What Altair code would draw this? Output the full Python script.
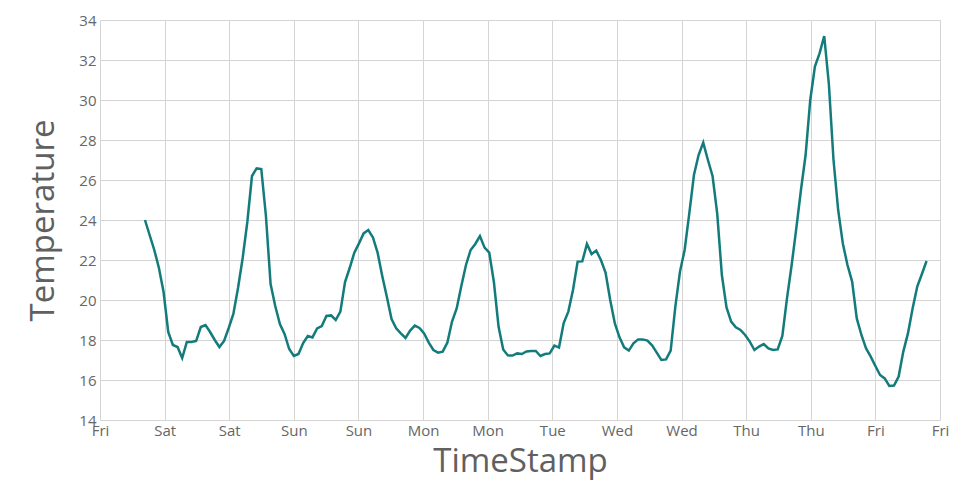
import altair as alt
import pandas as pd

# Hourly readings, starting Friday 2016-10-28 20:00 UTC
start_time = "2016-10-28T20:00:00Z"

day1 = [24.0, 23.25, 22.5, 21.6, 20.4, 18.4, 17.75, 17.65, 17.1, 17.9, 17.9, 17.95,
        18.65, 18.75, 18.4, 18.0, 17.65, 17.95, 18.6, 19.3, 20.6, 22.1, 23.9, 26.2]
day2 = [26.58, 26.55, 24.2, 20.8, 19.7, 18.8, 18.3, 17.55, 17.2, 17.3, 17.85, 18.2,
        18.13, 18.58, 18.7, 19.2, 19.23, 19.0, 19.42, 20.9, 21.6, 22.37, 22.83, 23.33]
day3 = [23.5, 23.13, 22.37, 21.2, 20.15, 19.05, 18.58, 18.33, 18.1, 18.47, 18.72, 18.6,
        18.33, 17.87, 17.5, 17.37, 17.42, 17.87, 18.92, 19.58, 20.7, 21.75, 22.5, 22.8]
day4 = [23.2, 22.62, 22.37, 20.9, 18.67, 17.53, 17.23, 17.22, 17.33, 17.3, 17.43, 17.45,
        17.45, 17.2, 17.3, 17.33, 17.72, 17.62, 18.85, 19.42, 20.5, 21.92, 21.93, 22.8]
day5 = [22.3, 22.47, 22.0, 21.37, 20.0, 18.83, 18.13, 17.63, 17.47, 17.83, 18.03, 18.03,
        17.97, 17.73, 17.37, 17.0, 17.03, 17.47, 19.67, 21.42, 22.5, 24.33, 26.25, 27.25]
day6 = [27.87, 27.0, 26.2, 24.33, 21.25, 19.63, 18.92, 18.63, 18.5, 18.25, 17.92, 17.5,
        17.67, 17.8, 17.58, 17.5, 17.53, 18.2, 20.08, 21.75, 23.58, 25.5, 27.25, 30.0]
day7 = [31.67, 32.33, 33.2, 30.8, 27.0, 24.5, 22.83, 21.75, 20.92, 19.08, 18.25, 17.58,
        17.17, 16.7, 16.25, 16.08, 15.7, 15.72, 16.17, 17.42, 18.33, 19.58, 20.67, 21.3]
last = [21.95]

temps = day1 + day2 + day3 + day4 + day5 + day6 + day7 + last
stamps = pd.date_range(start_time, periods=len(temps), freq="h")
ms = (stamps.asi8 // 1_000_000).tolist()

df = pd.DataFrame({"t": ms, "Temperature": temps})

chart = alt.Chart(df).mark_line(color="#137b7b", strokeWidth=2.5).encode(
    x=alt.X("t:Q", title="TimeStamp",
            scale=alt.Scale(zero=False, nice=True),
            axis=alt.Axis(tickCount=13, labelExpr="utcFormat(datum.value, '%a')",
                          labelFlush=False, labelPadding=3,
                          titleX=420, titleY=51, titleBaseline="alphabetic",
                          titleAlign="center")),
    y=alt.Y("Temperature:Q", title="Temperature",
            scale=alt.Scale(domain=[14, 34], zero=False),
            axis=alt.Axis(tickCount=10, labelFlush=False, labelPadding=4,
                          titleX=-47, titleY=200, titleAngle=270,
                          titleBaseline="alphabetic", titleAlign="center")),
).properties(
    width=840, height=400,
    autosize=alt.AutoSizeParams(type="none"),
    padding={"left": 92, "top": 12, "right": 12, "bottom": 72},
).configure(font="Open Sans").configure_axis(
    grid=True, gridColor="#d4d4d4", domain=False, ticks=False, tickSize=0,
    labelFontSize=15, labelColor="#666666", labelFont="Open Sans",
    titleFontSize=33, titleColor="#606060", titleFontWeight="normal", titleFont="Open Sans",
).configure_view(stroke=None)

chart.save("out.html", embed_options={"renderer": "svg", "actions": False})
